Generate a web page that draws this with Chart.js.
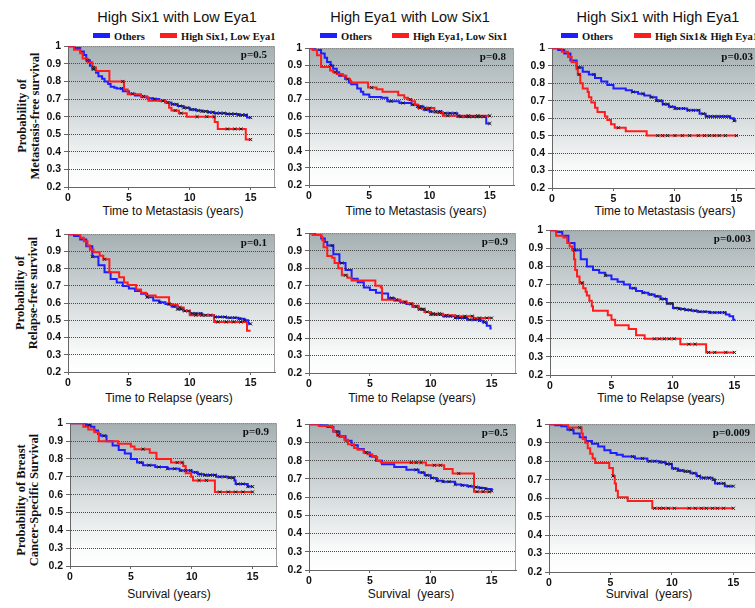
<!DOCTYPE html>
<html>
<head>
<meta charset="utf-8">
<script src="https://cdn.jsdelivr.net/npm/chart.js@4"></script>
<style>
  body { margin: 0; width: 755px; height: 608px; overflow: hidden; background: #fff; position: relative; }
  canvas { position: absolute; }
  .txt { position: absolute; white-space: pre; color: #111; }
  .colTitle { font: 14.5px "Liberation Sans", Arial, sans-serif; transform: translate(-50%, -50%); }
  .axTitle { font: 12px "Liberation Sans", Arial, sans-serif; transform: translate(-50%, -50%); }
  .rowLabel { font: bold 12.5px "Liberation Serif", "Times New Roman", serif; line-height: 12.5px; text-align: center;
              transform: translate(-50%, -50%) rotate(-90deg); }
  .legBar { position: absolute; width: 17px; height: 5px; }
  .legTxt { position: absolute; font: bold 10.5px "Liberation Serif", "Times New Roman", serif; transform: translateY(-50%); white-space: pre; color: #111; }
</style>
</head>
<body>
<script>
// tick values
const xTicks = [0, 5, 10, 15];
const yTicks = [0.2, 0.3, 0.4, 0.5, 0.6, 0.7, 0.8, 0.9, 1];
const pValues = ["p=0.5", "p=0.8", "p=0.03", "p=0.1", "p=0.9", "p=0.003", "p=0.9", "p=0.5", "p=0.009"];

const colTitles = ["High Six1 with Low Eya1", "High Eya1 with Low Six1", "High Six1 with High Eya1"];
const groupNames = ["High Six1, Low Eya1", "High Eya1, Low Six1", "High Six1& High Eya1"];
const rowLabels = [["Probability of", "Metastasis-free survival"], ["Probability of", "Relapse-free survival"], ["Probability of Breast", "Cancer-Specific Survival"]];
const xTitles = [["Time to Metastasis (years)", "Time to Metastasis (years)", "Time to Metastasis (years)"],
                 ["Time to Relapse (years)", "Time to Relapse (years)", "Time to Relapse (years)"],
                 ["Survival (years)", "Survival  (years)", "Survival  (years)"]];

// ---- metastasis-free survival ----
const m1OthersT = [0, 0.5, 1, 1.3, 1.5, 1.8, 2, 2.3, 2.5, 2.8, 3, 3.3, 3.5, 3.8, 4, 4.5, 5, 5.5, 6, 6.5, 7, 7.5, 8, 8.5, 9, 9.5, 10, 10.5, 11, 11.5, 12, 13, 14, 14.7, 15];
const m1OthersS = [1, 0.99, 0.97, 0.95, 0.92, 0.89, 0.87, 0.85, 0.83, 0.815, 0.8, 0.785, 0.77, 0.765, 0.76, 0.745, 0.73, 0.72, 0.715, 0.705, 0.7, 0.69, 0.68, 0.67, 0.66, 0.65, 0.64, 0.635, 0.63, 0.625, 0.62, 0.615, 0.61, 0.595, 0.595];
const m1OthersCens = [1.6, 2.1, 4.4, 5.3, 6.2, 7.1, 7.8, 8.2, 8.6, 8.9, 9.2, 9.5, 9.8, 10.1, 10.4, 10.7, 11, 11.3, 11.6, 11.9, 12.2, 12.5, 12.8, 13.1, 13.4, 13.7, 14, 14.3, 14.6, 15];
const m1GroupT = [0, 0.5, 1, 1.2, 1.6, 2, 2.3, 3.4, 4.6, 4.9, 6, 6.6, 8, 8.3, 8.5, 9.1, 9.75, 12.05, 12.3, 14.6, 15];
const m1GroupS = [1, 0.98, 0.96, 0.93, 0.91, 0.88, 0.86, 0.8, 0.755, 0.727, 0.71, 0.69, 0.68, 0.65, 0.635, 0.62, 0.6, 0.57, 0.53, 0.47, 0.47];
const m1GroupCens = [2.1, 4.5, 8.8, 9.3, 10.6, 11.4, 12, 13.1, 13.7, 14.2, 15];

const m2OthersT = [0, 0.5, 1, 1.3, 1.5, 1.8, 2, 2.3, 2.5, 3, 3.3, 3.5, 4, 4.3, 4.5, 5, 6, 6.5, 7.5, 8.5, 9, 9.5, 10, 11, 12.3, 14.7, 15];
const m2OthersS = [1, 0.99, 0.97, 0.945, 0.92, 0.9, 0.88, 0.86, 0.84, 0.82, 0.8, 0.79, 0.765, 0.745, 0.73, 0.715, 0.71, 0.69, 0.68, 0.67, 0.66, 0.64, 0.63, 0.62, 0.6, 0.56, 0.56];
const m2OthersCens = [1.8, 3.2, 6.8, 7.8, 8.6, 9, 9.3, 9.7, 10.1, 10.5, 10.9, 11.3, 11.7, 12.1, 12.6, 13, 13.3, 13.6, 13.9, 14.2, 14.5, 15];
const m2GroupT = [0, 0.3, 0.66, 1, 1.75, 2, 2.3, 2.8, 3.1, 3.4, 3.5, 4.9, 5.6, 6.1, 7.4, 7.9, 8.2, 8.5, 8.8, 9.05, 10.4, 11.1, 15];
const m2GroupS = [1, 0.99, 0.96, 0.89, 0.87, 0.86, 0.85, 0.84, 0.82, 0.81, 0.8, 0.77, 0.76, 0.745, 0.725, 0.71, 0.7, 0.69, 0.67, 0.65, 0.625, 0.605, 0.605];
const m2GroupCens = [2.2, 5.2, 8.4, 9.2, 9.6, 10, 10.8, 11.5, 12.4, 13.2, 14, 15];

const m3OthersT = [0, 0.5, 1, 1.5, 2, 2.5, 3, 3.5, 4, 4.5, 5, 6, 6.5, 7, 7.5, 8, 8.5, 9, 9.5, 10, 11, 12, 12.5, 14.5, 14.8, 15];
const m3OthersS = [1, 0.99, 0.97, 0.93, 0.89, 0.865, 0.85, 0.83, 0.81, 0.79, 0.77, 0.76, 0.75, 0.74, 0.73, 0.72, 0.7, 0.68, 0.665, 0.655, 0.645, 0.625, 0.61, 0.6, 0.585, 0.585];
const m3OthersCens = [2.2, 3.4, 6.6, 7.4, 8.1, 8.5, 8.8, 9.1, 9.4, 9.7, 10, 10.3, 10.7, 11.1, 11.5, 11.9, 12.3, 12.6, 12.9, 13.2, 13.5, 13.8, 14.1, 14.4, 14.8];
const m3GroupT = [0, 0.8, 1.3, 1.6, 2, 2.1, 2.3, 2.5, 2.9, 3, 3.2, 3.5, 3.7, 4.3, 4.5, 4.8, 5.1, 6, 7.7, 15];
const m3GroupS = [1, 0.98, 0.95, 0.92, 0.88, 0.85, 0.8, 0.77, 0.75, 0.72, 0.69, 0.66, 0.635, 0.61, 0.59, 0.565, 0.545, 0.525, 0.5, 0.5];
const m3GroupCens = [2.2, 5.4, 8.6, 9, 9.4, 10, 10.6, 11.2, 11.9, 12.4, 12.8, 13.2, 13.6, 14.1, 15];

// ---- relapse-free survival ----
const r1OthersT = [0, 0.5, 1, 1.5, 2, 2.5, 3, 3.5, 4, 4.5, 5, 5.5, 6, 6.5, 7, 7.5, 8, 8.5, 9, 9.5, 10, 11, 12, 13, 14, 14.5, 14.8, 15];
const r1OthersS = [1, 0.99, 0.97, 0.93, 0.87, 0.82, 0.78, 0.74, 0.72, 0.7, 0.685, 0.67, 0.655, 0.635, 0.615, 0.605, 0.595, 0.58, 0.565, 0.555, 0.54, 0.53, 0.52, 0.515, 0.51, 0.5, 0.48, 0.48];
const r1OthersCens = [2, 6.5, 7.5, 8.3, 8.7, 9, 9.3, 9.6, 9.9, 10.2, 10.5, 10.9, 11.3, 11.7, 12.1, 12.5, 12.9, 13.3, 13.7, 14.1, 14.5, 15];
const r1GroupT = [0, 1, 1.3, 1.6, 1.8, 2.1, 2.6, 2.9, 3.4, 4.2, 4.6, 4.9, 5.6, 6, 6.4, 7.2, 8.3, 9, 9.5, 10, 12, 14.7, 15];
const r1GroupS = [1, 0.98, 0.96, 0.935, 0.91, 0.895, 0.875, 0.855, 0.78, 0.75, 0.72, 0.705, 0.68, 0.66, 0.645, 0.635, 0.59, 0.575, 0.555, 0.53, 0.49, 0.44, 0.44];
const r1GroupCens = [3, 9.2, 10.5, 11, 12.3, 13, 13.6, 14.2];

const r2OthersT = [0, 0.5, 1, 1.3, 1.5, 2, 2.5, 3, 3.5, 4, 4.5, 5, 5.5, 6, 6.5, 7, 7.5, 8, 8.5, 9, 9.5, 10, 11, 12, 13, 14, 14.3, 14.6, 14.9, 15];
const r2OthersS = [1, 0.99, 0.97, 0.95, 0.93, 0.88, 0.83, 0.79, 0.74, 0.72, 0.69, 0.675, 0.66, 0.655, 0.63, 0.615, 0.605, 0.595, 0.58, 0.565, 0.55, 0.535, 0.525, 0.515, 0.505, 0.5, 0.49, 0.47, 0.455, 0.455];
const r2OthersCens = [1.9, 2.7, 6.8, 7.9, 8.4, 8.8, 9.1, 9.4, 9.7, 10, 10.4, 10.8, 11.2, 11.6, 12, 12.4, 12.8, 13.2, 13.6, 14, 14.4];
const r2GroupT = [0, 0.3, 1, 1.1, 1.2, 1.5, 1.9, 2.1, 2.4, 2.7, 3.15, 3.5, 5.45, 5.9, 6, 7.5, 8, 8.5, 9, 9.5, 10, 11, 12, 13.5, 15];
const r2GroupS = [1, 0.99, 0.98, 0.96, 0.92, 0.87, 0.86, 0.83, 0.8, 0.76, 0.745, 0.73, 0.7, 0.69, 0.62, 0.61, 0.6, 0.585, 0.565, 0.55, 0.54, 0.53, 0.525, 0.515, 0.515];
const r2GroupCens = [3, 7.2, 9.3, 10.2, 10.7, 11.3, 12.2, 12.8, 13.4, 14, 14.6, 15];

const r3OthersT = [0, 0.5, 1, 1.5, 2, 2.5, 3, 3.5, 4, 4.5, 5, 5.5, 6, 6.5, 7, 7.5, 8, 8.5, 9, 9.5, 10, 10.5, 11, 11.5, 12, 13, 14, 14.3, 14.6, 14.9, 15];
const r3OthersS = [1, 0.99, 0.97, 0.93, 0.89, 0.84, 0.8, 0.78, 0.765, 0.75, 0.73, 0.715, 0.7, 0.68, 0.665, 0.655, 0.645, 0.635, 0.62, 0.595, 0.57, 0.565, 0.56, 0.555, 0.55, 0.545, 0.545, 0.535, 0.525, 0.505, 0.5];
const r3OthersCens = [2, 4.5, 6.8, 7.6, 8.2, 8.7, 9, 9.3, 9.6, 9.9, 10.2, 10.5, 10.8, 11.1, 11.4, 11.8, 12.2, 12.6, 13, 13.4, 13.8, 14.2];
const r3GroupT = [0, 0.5, 1.1, 1.4, 1.6, 1.8, 1.95, 2.05, 2.2, 2.4, 2.7, 2.9, 3, 3.2, 3.4, 3.5, 4.7, 5, 5.3, 6.4, 7, 7.7, 10.6, 12.7, 15];
const r3GroupS = [1, 0.97, 0.96, 0.93, 0.91, 0.89, 0.84, 0.78, 0.745, 0.71, 0.68, 0.66, 0.64, 0.61, 0.58, 0.555, 0.53, 0.505, 0.475, 0.455, 0.42, 0.4, 0.37, 0.325, 0.325];
const r3GroupCens = [2.6, 8.5, 8.9, 9.3, 9.7, 10.1, 11.3, 11.8, 12.9, 13.4, 14.3, 15];

// ---- breast cancer-specific survival ----
const s1OthersT = [0, 1, 1.3, 1.7, 2, 2.3, 2.5, 3, 3.5, 4, 4.5, 5, 5.5, 6, 7, 8, 9, 10, 10.5, 11, 12, 13, 13.5, 13.6, 14.6, 15];
const s1OthersS = [1, 1, 0.99, 0.98, 0.96, 0.94, 0.93, 0.9, 0.875, 0.85, 0.83, 0.8, 0.78, 0.765, 0.755, 0.745, 0.735, 0.725, 0.715, 0.71, 0.7, 0.695, 0.68, 0.66, 0.645, 0.645];
const s1OthersCens = [1.6, 2.8, 5.8, 6.5, 7.3, 8, 8.6, 9.1, 9.5, 9.9, 10.3, 10.7, 11.1, 11.5, 11.9, 12.3, 12.7, 13.1, 13.4, 13.8, 14.2, 14.6, 15];
const s1GroupT = [0, 1.1, 1.5, 2, 2.37, 3.95, 5, 5.3, 6.55, 7.1, 8.3, 9.3, 9.5, 9.95, 10.1, 11.9, 15];
const s1GroupS = [1, 0.98, 0.965, 0.95, 0.9, 0.885, 0.87, 0.855, 0.835, 0.8, 0.78, 0.76, 0.72, 0.7, 0.68, 0.615, 0.615];
const s1GroupCens = [6, 8.8, 9.2, 10.6, 11.2, 12.3, 13, 13.6, 14.2, 15];

const s2OthersT = [0, 1, 1.5, 2, 2.5, 3, 3.5, 4, 4.5, 5, 5.5, 6, 7, 8, 9, 9.5, 10, 10.5, 11, 12, 12.5, 13, 13.5, 14, 14.5, 15];
const s2OthersS = [1, 0.995, 0.985, 0.96, 0.935, 0.91, 0.885, 0.865, 0.845, 0.825, 0.8, 0.78, 0.765, 0.75, 0.735, 0.72, 0.705, 0.69, 0.685, 0.67, 0.665, 0.66, 0.655, 0.65, 0.645, 0.635];
const s2OthersCens = [2.3, 4.7, 8.8, 9.3, 9.7, 10.1, 10.5, 11, 11.5, 12, 12.6, 13.2, 13.7, 14.1, 14.5, 15];
const s2GroupT = [0, 0.8, 1.9, 2, 2.3, 2.5, 2.9, 3.2, 3.7, 4, 4.5, 4.8, 5.2, 5.6, 5.9, 9.6, 11.1, 11.8, 13.55, 15];
const s2GroupS = [1, 0.99, 0.98, 0.96, 0.94, 0.93, 0.915, 0.89, 0.87, 0.86, 0.845, 0.835, 0.82, 0.8, 0.79, 0.775, 0.755, 0.73, 0.63, 0.63];
const s2GroupCens = [2.4, 8.4, 8.8, 9.2, 10.3, 10.8, 12.3, 13.8, 14.3, 14.8];

const s3OthersT = [0, 0.5, 1, 1.5, 2, 2.5, 3, 3.5, 4, 4.5, 5, 5.5, 6, 7, 8, 9, 9.5, 10, 10.5, 11, 11.5, 12, 12.3, 13.3, 13.5, 14.3, 15];
const s3OthersS = [1, 0.995, 0.99, 0.97, 0.95, 0.93, 0.91, 0.895, 0.88, 0.86, 0.845, 0.835, 0.825, 0.815, 0.8, 0.795, 0.785, 0.76, 0.75, 0.745, 0.735, 0.72, 0.71, 0.7, 0.68, 0.665, 0.665];
const s3OthersCens = [1.8, 6.8, 7.6, 8.2, 8.6, 9, 9.3, 9.6, 9.9, 10.2, 10.5, 10.8, 11.1, 11.4, 11.8, 12.2, 12.6, 13, 13.4, 13.8, 14.2, 14.6, 15];
const s3GroupT = [0, 1.55, 2.65, 2.75, 2.95, 3.15, 3.35, 3.55, 3.75, 4.9, 5.2, 5.35, 5.45, 5.6, 6.4, 8.4, 15];
const s3GroupS = [1, 0.982, 0.95, 0.92, 0.9, 0.87, 0.84, 0.815, 0.79, 0.763, 0.72, 0.68, 0.64, 0.605, 0.585, 0.545, 0.545];
const s3GroupCens = [2.5, 5.2, 8.6, 9, 9.3, 9.7, 10.2, 11.4, 11.9, 12.4, 12.8, 13.3, 13.7, 14.2, 15];

// panel layout: plot area [left, top, right, bottom] in page pixels
const panels = [
  { box: [68, 45, 276, 187],  others: [m1OthersT, m1OthersS, m1OthersCens], group: [m1GroupT, m1GroupS, m1GroupCens] },
  { box: [309, 47, 515, 185], others: [m2OthersT, m2OthersS, m2OthersCens], group: [m2GroupT, m2GroupS, m2GroupCens] },
  { box: [552, 47, 762, 188], others: [m3OthersT, m3OthersS, m3OthersCens], group: [m3GroupT, m3GroupS, m3GroupCens] },
  { box: [68, 233, 276, 372], others: [r1OthersT, r1OthersS, r1OthersCens], group: [r1GroupT, r1GroupS, r1GroupCens] },
  { box: [309, 232, 517, 373], others: [r2OthersT, r2OthersS, r2OthersCens], group: [r2GroupT, r2GroupS, r2GroupCens] },
  { box: [550, 229, 760, 375], others: [r3OthersT, r3OthersS, r3OthersCens], group: [r3GroupT, r3GroupS, r3GroupCens] },
  { box: [70, 422, 278, 566], others: [s1OthersT, s1OthersS, s1OthersCens], group: [s1GroupT, s1GroupS, s1GroupCens] },
  { box: [309, 423, 517, 570], others: [s2OthersT, s2OthersS, s2OthersCens], group: [s2GroupT, s2GroupS, s2GroupCens] },
  { box: [549, 423, 759, 572], others: [s3OthersT, s3OthersS, s3OthersCens], group: [s3GroupT, s3GroupS, s3GroupCens] },
];

const colTitlePos = [[177, 17], [410, 17], [658, 17]];
const legendPos = [[93, 160], [320, 392], [561, 634]];   // blue bar left, red bar left
const xTitlePos = [[[173, 211], [416, 211], [665, 211]], [[169, 398], [412, 398], [661, 398]], [[169, 594], [411, 594], [649, 594]]];
const rowLabelPos = [[28, 116], [26, 293], [27, 500]];

const BLUE = "#1e1eff";
const RED = "#ff1c1c";
const AXIS_W = 36, AXIS_H = 20, PAD_T = 8, PAD_R = 4;

function addText(cls, text, x, y) {
  const d = document.createElement("div");
  d.className = "txt " + cls;
  d.textContent = text;
  d.style.left = x + "px";
  d.style.top = y + "px";
  document.body.appendChild(d);
  return d;
}

// titles, legends, axis titles
colTitles.forEach((t, i) => addText("colTitle", t, colTitlePos[i][0], colTitlePos[i][1]));
legendPos.forEach((lp, i) => {
  [[lp[0], BLUE, "Others"], [lp[1], RED, groupNames[i]]].forEach(([x, c, label]) => {
    const bar = document.createElement("div");
    bar.className = "legBar";
    bar.style.left = x + "px"; bar.style.top = "33px"; bar.style.background = c;
    document.body.appendChild(bar);
    const t = document.createElement("div");
    t.className = "legTxt";
    t.textContent = label;
    t.style.left = (x + 21) + "px"; t.style.top = "36px";
    document.body.appendChild(t);
  });
});
xTitles.forEach((row, r) => row.forEach((t, c) => addText("axTitle", t, xTitlePos[r][c][0], xTitlePos[r][c][1])));
rowLabels.forEach((lines, r) => addText("rowLabel", lines.join("\n"), rowLabelPos[r][0], rowLabelPos[r][1]));

function stepPoints(ts, ss) {
  return ts.map((t, i) => ({ x: t, y: ss[i] }));
}
// censored marks sit on the curve at their time
function censorPoints(ts, ss, cens) {
  return cens.map(c => {
    let v = ss[0];
    for (let i = 0; i < ts.length; i++) if (ts[i] <= c) v = ss[i];
    return { x: c, y: v };
  });
}

// gradient plot background, light frame and p-value
const panelDeco = {
  id: "panelDeco",
  beforeDraw(chart) {
    const { ctx, chartArea: a } = chart;
    const g = ctx.createLinearGradient(0, a.top, 0, a.bottom);
    g.addColorStop(0, "#a5b0b3");
    g.addColorStop(0.45, "#d2d8d9");
    g.addColorStop(0.85, "#f8f9f9");
    g.addColorStop(1, "#ffffff");
    ctx.save();
    ctx.fillStyle = g;
    ctx.fillRect(a.left, a.top, a.right - a.left, a.bottom - a.top);
    ctx.restore();
  },
  beforeDatasetsDraw(chart, args, opts) {
    const { ctx, chartArea: a } = chart;
    ctx.save();
    ctx.strokeStyle = "#a0a0a0";
    ctx.lineWidth = 1;
    ctx.beginPath();
    ctx.moveTo(a.left, a.top + 0.5);
    ctx.lineTo(a.right - 0.5, a.top + 0.5);
    ctx.lineTo(a.right - 0.5, a.bottom);
    ctx.stroke();
    ctx.font = 'bold 11px "Liberation Serif", serif';
    ctx.fillStyle = "#111";
    ctx.textAlign = "right";
    ctx.textBaseline = "middle";
    ctx.fillText(opts.text, a.right - 8, a.top + 9);
    ctx.restore();
  }
};

const tickFont = { family: "Liberation Sans", weight: "bold", size: 10.5 };

panels.forEach((p, k) => {
  const [L, T, R, B] = p.box;
  const w = R - L + AXIS_W + PAD_R;
  const h = B - T + PAD_T + AXIS_H;
  const cv = document.createElement("canvas");
  cv.width = w; cv.height = h;
  cv.style.left = (L - AXIS_W) + "px";
  cv.style.top = (T - PAD_T) + "px";
  cv.style.width = w + "px";
  cv.style.height = h + "px";
  document.body.appendChild(cv);

  const [oT, oS, oC] = p.others;
  const [gT, gS, gC] = p.group;

  new Chart(cv.getContext("2d"), {
    type: "line",
    data: {
      datasets: [
        { data: censorPoints(gT, gS, gC), showLine: false, pointStyle: "crossRot", pointRadius: 2.2, borderColor: "#1a1a1a", borderWidth: 1 },
        { data: censorPoints(oT, oS, oC), showLine: false, pointStyle: "crossRot", pointRadius: 2.2, borderColor: "#1a1a1a", borderWidth: 1 },
        { data: stepPoints(gT, gS), stepped: true, borderColor: RED, borderWidth: 2, pointRadius: 0, fill: false },
        { data: stepPoints(oT, oS), stepped: true, borderColor: BLUE, borderWidth: 2, pointRadius: 0, fill: false },
      ]
    },
    plugins: [panelDeco],
    options: {
      responsive: false,
      animation: false,
      events: [],
      layout: { padding: { top: PAD_T, right: PAD_R, left: 0, bottom: 0 } },
      plugins: {
        legend: { display: false },
        tooltip: { enabled: false },
        panelDeco: { text: pValues[k] }
      },
      scales: {
        x: {
          type: "linear", min: 0, max: 17,
          afterBuildTicks: s => { s.ticks = xTicks.map(v => ({ value: v })); },
          afterFit: s => { s.height = AXIS_H; },
          grid: { display: true, drawOnChartArea: false, drawTicks: true, tickLength: 3, tickColor: "#666" },
          border: { color: "#666", width: 1 },
          ticks: { font: tickFont, color: "#111", padding: 2, maxRotation: 0 }
        },
        y: {
          type: "linear", min: 0.2, max: 1,
          afterBuildTicks: s => { s.ticks = yTicks.map(v => ({ value: v })); },
          afterFit: s => { s.width = AXIS_W; },
          grid: { color: "#4a4a4a", lineWidth: 1, tickLength: 4, tickColor: "#666" },
          border: { color: "#666", width: 1, dash: [1, 1] },
          ticks: { font: tickFont, color: "#111", padding: 3, callback: v => (v === 1 ? "1" : v.toFixed(1)) }
        }
      }
    }
  });
});
</script>
</body>
</html>
